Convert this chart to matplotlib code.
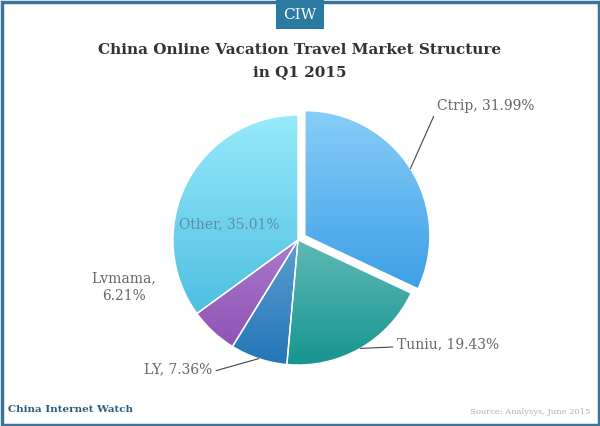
#!/usr/bin/env python3
"""
China online vacation travel market structure, Q1 2015 (pie chart)
"""

import numpy as np
import matplotlib
matplotlib.use("Agg")
import matplotlib.pyplot as plt
from matplotlib.colors import LinearSegmentedColormap
from matplotlib.patches import Rectangle

# data
companies = ["Ctrip", "Tuniu", "LY", "Lvmama", "Other"]
shares = [31.99, 19.43, 7.36, 6.21, 35.01]

# gradient colours per slice (top -> bottom)
grad_top = ["#88cdf7", "#a8dede", "#93c6ee", "#c9a6e8", "#97eafb"]
grad_bot = ["#1e8de0", "#16958e", "#2476b6", "#8a4db0", "#3cb3da"]

W, H = 600, 426
CX, CY, R = 298, H - 240, 125
# pie() adds explode in data units, so scale the fraction by the radius
explode = [0.065 * R, 0, 0, 0, 0]

fig = plt.figure(figsize=(W / 100, H / 100), dpi=100)
ax = fig.add_axes([0, 0, 1, 1])

wedges, _ = ax.pie(shares, startangle=90, counterclock=False, center=(CX, CY),
                   radius=R, explode=explode, frame=True,
                   wedgeprops=dict(edgecolor="white", linewidth=1.0))
ax.set_aspect("equal")
ax.axis("off")

# vertical gradient inside every wedge
for w, c0, c1 in zip(wedges, grad_top, grad_bot):
    cmap = LinearSegmentedColormap.from_list("g", [c1, c0])
    grad = np.linspace(0, 1, 256).reshape(-1, 1)
    cx, cy = w.center
    img = ax.imshow(grad, cmap=cmap, origin="lower", aspect="auto",
                    extent=[cx - R, cx + R, cy - R, cy + R], zorder=1)
    img.set_clip_path(w)
    w.set_facecolor("none")
    w.set_zorder(2)

ax.set_xlim(0, W)
ax.set_ylim(0, H)

# labels
lab_font = dict(family="DejaVu Serif", fontsize=10, color="#666666")
mid = []
acc = 0
for s in shares:
    mid.append(np.deg2rad(90 - (acc + s / 2) * 3.6))
    acc += s


def edge_point(i):
    cx, cy = wedges[i].center
    return cx + R * np.cos(mid[i]), cy + R * np.sin(mid[i])


line_kw = dict(arrowstyle="-", color="#444444", lw=0.8, shrinkA=1, shrinkB=0)
ax.annotate(f"{companies[0]}, {shares[0]:.2f}%", xy=edge_point(0), xytext=(437, H - 106),
            ha="left", va="center", **lab_font,
            arrowprops=dict(relpos=(0, 0.3), **line_kw))
ax.annotate(f"{companies[1]}, {shares[1]:.2f}%", xy=edge_point(1), xytext=(397, H - 344),
            ha="left", va="center", **lab_font,
            arrowprops=dict(relpos=(0, 0.3), **line_kw))
ax.annotate(f"{companies[2]}, {shares[2]:.2f}%", xy=edge_point(2), xytext=(212, H - 369),
            ha="right", va="center", **lab_font,
            arrowprops=dict(relpos=(1, 0.3), **line_kw))
ax.text(124, H - 287, f"{companies[3]},\n{shares[3]:.2f}%", ha="center", va="center",
        linespacing=1.3, **lab_font)
ax.text(229, H - 224, f"{companies[4]}, {shares[4]:.2f}%", ha="center", va="center",
        family="DejaVu Serif", fontsize=10, color="#5f8aa6", zorder=5)

# title
ax.text(W / 2, H - 50, "China Online Vacation Travel Market Structure", ha="center",
        va="center", family="DejaVu Serif", fontsize=11, fontweight="bold", color="#333333")
ax.text(W / 2, H - 72, "in Q1 2015", ha="center", va="center", family="DejaVu Serif",
        fontsize=11, fontweight="bold", color="#333333")

# frame and badge
ax.add_patch(Rectangle((1.5, 1.5), W - 3, H - 3, fill=False, edgecolor="#3a7498", lw=2.5,
                       zorder=10))
ax.add_patch(Rectangle((276, H - 29), 48, 29, facecolor="#2b7aa1", edgecolor="none", zorder=11))
ax.text(300, H - 15, "CIW", ha="center", va="center", family="DejaVu Serif", fontsize=11,
        color="white", zorder=12)

# footer
ax.text(8, H - 410, "China Internet Watch", ha="left", va="center", family="DejaVu Serif",
        fontsize=7.5, fontweight="bold", color="#2b5e7c")
ax.text(590, H - 412, "Source: Analysys, June 2015", ha="right", va="center",
        family="DejaVu Serif", fontsize=6, color="#b0b0b0")

fig.savefig("out.png", dpi=100)
